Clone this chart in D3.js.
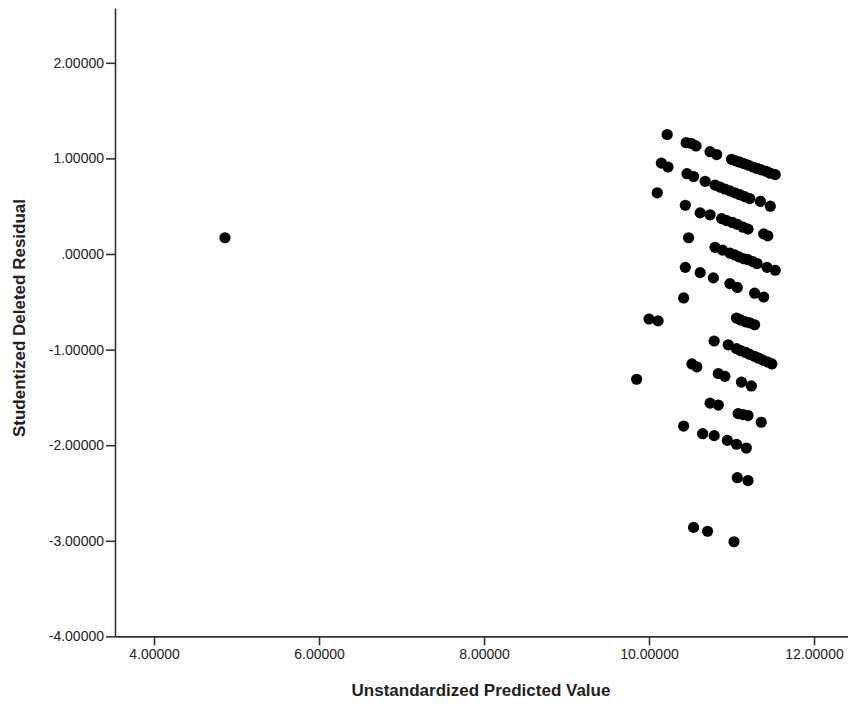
<!DOCTYPE html>
<html>
<head>
<meta charset="utf-8">
<script src="https://cdn.jsdelivr.net/npm/d3@7"></script>
<style>
  html, body { margin: 0; padding: 0; background: #fff; }
  svg { display: block; }
  text { font-family: Arial, "Liberation Sans", sans-serif; }
</style>
</head>
<body>
<script>
// ---- Data ----
const xTitle = "Unstandardized Predicted Value";
const yTitle = "Studentized Deleted Residual";
const xTicks = [4, 6, 8, 10, 12];
const yTicks = [-4, -3, -2, -1, 0, 1, 2];

const predicted = [
  4.86,
  10.22, 10.45, 10.51, 10.57, 10.74, 10.82,
  11.00, 11.05, 11.10, 11.15, 11.20, 11.26, 11.31, 11.36, 11.42, 11.47, 11.53,
  10.15, 10.23, 10.46, 10.54, 10.68,
  10.80, 10.86, 10.92, 10.98, 11.04, 11.10, 11.16, 11.22, 11.35, 11.47,
  10.10, 10.44, 10.62, 10.74,
  10.88, 10.94, 11.01, 11.07, 11.14, 11.20, 11.39, 11.44,
  10.48, 10.80, 10.89,
  10.98, 11.04, 11.09, 11.15, 11.20, 11.26, 11.31, 11.43, 11.53,
  10.44, 10.62, 10.78, 10.98, 11.07, 11.28, 11.39, 10.42,
  10.00, 10.11, 11.06, 11.11, 11.17, 11.22, 11.28,
  10.79, 10.96,
  11.06, 11.11, 11.17, 11.22, 11.28, 11.33, 11.38, 11.44, 11.49,
  10.52, 10.58, 10.84, 10.92, 11.12, 11.24, 9.85,
  10.74, 10.84, 11.08, 11.14, 11.20, 11.36,
  10.42, 10.65, 10.79, 10.95, 11.06, 11.18,
  11.07, 11.20,
  10.54, 10.71, 11.03
];
const residual = [
  0.17,
  1.25, 1.164, 1.158, 1.13, 1.07, 1.04,
  0.99, 0.975, 0.96, 0.945, 0.93, 0.91, 0.895, 0.88, 0.865, 0.845, 0.83,
  0.95, 0.91, 0.84, 0.81, 0.76,
  0.72, 0.70, 0.68, 0.66, 0.64, 0.62, 0.60, 0.58, 0.55, 0.50,
  0.64, 0.51, 0.43, 0.41,
  0.37, 0.35, 0.33, 0.31, 0.28, 0.26, 0.21, 0.19,
  0.17, 0.07, 0.04,
  0.01, -0.01, -0.03, -0.05, -0.06, -0.08, -0.10, -0.14, -0.17,
  -0.14, -0.195, -0.25, -0.31, -0.35, -0.41, -0.45, -0.46,
  -0.68, -0.70, -0.67, -0.69, -0.71, -0.72, -0.74,
  -0.91, -0.95,
  -0.99, -1.01, -1.03, -1.05, -1.07, -1.09, -1.11, -1.13, -1.15,
  -1.15, -1.18, -1.25, -1.28, -1.34, -1.38, -1.31,
  -1.56, -1.58, -1.67, -1.68, -1.69, -1.76,
  -1.80, -1.88, -1.90, -1.95, -1.99, -2.03,
  -2.34, -2.37,
  -2.86, -2.90, -3.01
];

// ---- Layout ----
const W = 848, H = 705;
const plotLeft = 115, plotRight = 848, plotTop = 8, plotBottom = 636.4;

const svg = d3.select("body").append("svg")
  .attr("width", W).attr("height", H);

const x = d3.scaleLinear().domain([3.527, 12.412]).range([plotLeft, plotRight]);
const y = d3.scaleLinear().domain([-4, 2.573]).range([plotBottom, plotTop]);

const locale = d3.formatLocale({ decimal: ".", thousands: ",", grouping: [3], currency: ["", ""], minus: "-" });
const f5 = locale.format(".5f");
const fmt = v => f5(v).replace(/^0\./, ".").replace(/^-0\./, "-.");

const textColor = "#222";
const axisColor = "#333";

// y axis
const gy = svg.append("g")
  .attr("transform", `translate(${plotLeft},0)`)
  .call(d3.axisLeft(y).tickValues(yTicks).tickFormat(fmt).tickSize(9).tickPadding(2).tickSizeOuter(0));
// x axis
const gx = svg.append("g")
  .attr("transform", `translate(0,${plotBottom})`)
  .call(d3.axisBottom(x).tickValues(xTicks).tickFormat(fmt).tickSize(9).tickPadding(4).tickSizeOuter(0));

[gx, gy].forEach(g => {
  g.select(".domain").attr("stroke", axisColor).attr("stroke-width", 1.6);
  g.selectAll(".tick line").attr("stroke", axisColor).attr("stroke-width", 1.6);
  g.selectAll(".tick text")
    .attr("fill", textColor)
    .style("font-size", "14px")
    .style("font-family", "Arial, 'Liberation Sans', sans-serif");
});

// points
svg.append("g")
  .selectAll("circle")
  .data(predicted.map((p, i) => ({ p, r: residual[i] })))
  .join("circle")
  .attr("cx", d => x(d.p))
  .attr("cy", d => y(d.r))
  .attr("r", 5.6)
  .attr("fill", "#000");

// titles
svg.append("text")
  .attr("x", 481).attr("y", 696)
  .attr("text-anchor", "middle")
  .attr("fill", textColor)
  .style("font-size", "17px").style("font-weight", "bold")
  .text(xTitle);

svg.append("text")
  .attr("transform", `translate(25,318) rotate(-90)`)
  .attr("text-anchor", "middle")
  .attr("fill", textColor)
  .style("font-size", "17px").style("font-weight", "bold")
  .text(yTitle);
</script>
</body>
</html>
